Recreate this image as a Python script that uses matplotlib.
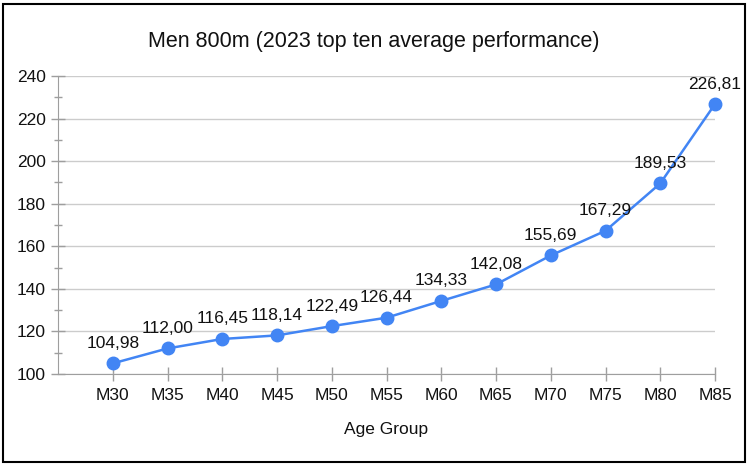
import matplotlib.pyplot as plt
from matplotlib.patches import Rectangle
from matplotlib.ticker import MultipleLocator

plt.rcParams['font.family'] = ['Liberation Sans', 'DejaVu Sans']

# data
age_groups = ['M30', 'M35', 'M40', 'M45', 'M50', 'M55',
              'M60', 'M65', 'M70', 'M75', 'M80', 'M85']
avg_time = [104.98, 112.00, 116.45, 118.14, 122.49, 126.44,
            134.33, 142.08, 155.69, 167.29, 189.53, 226.81]

blue = '#4285F4'
axis_grey = '#9e9e9e'
txt = '#111111'

fig = plt.figure(figsize=(7.48, 4.65), dpi=100)
ax = fig.add_axes([58 / 748, 1 - 374 / 465, (715 - 58) / 748, (374 - 76) / 465])

x = list(range(len(age_groups)))
ax.plot(x, avg_time, color=blue, lw=1.8, marker='o', markersize=9, zorder=3, clip_on=False)

for xi, v in zip(x, avg_time):
    ax.annotate(f'{v:.2f}'.replace('.', ','), (xi, v), xytext=(0, 9),
                textcoords='offset points', ha='center', va='bottom',
                fontsize=12.5, color=txt)

ax.set_xlim(-1, 11)
ax.set_ylim(100, 240)
ax.set_xticks(x)
ax.set_xticklabels(age_groups)
ax.yaxis.set_major_locator(MultipleLocator(20))
ax.yaxis.set_minor_locator(MultipleLocator(10))

ax.grid(axis='y', which='major', color='#cccccc', lw=1)
ax.set_axisbelow(True)
for s in ['top', 'right']:
    ax.spines[s].set_visible(False)
ax.spines['left'].set_color(axis_grey)
ax.spines['bottom'].set_color(axis_grey)

ax.tick_params(axis='y', which='major', direction='inout', length=10, width=1,
               color=axis_grey, labelsize=12.5, pad=4, labelcolor=txt)
ax.tick_params(axis='y', which='minor', direction='inout', length=6, width=1,
               color=axis_grey)
ax.tick_params(axis='x', direction='inout', length=10, width=1,
               color=axis_grey, labelsize=12.5, pad=5, labelcolor=txt)

ax.set_xlabel('Age Group', fontsize=12.5, labelpad=13.5, color=txt)
fig.suptitle('Men 800m (2023 top ten average performance)', x=0.5, y=1 - 41 / 465,
             va='center', fontsize=15.5, color=txt)

# chart border
fig.patches.append(Rectangle((3 / 748, 3 / 465), 742 / 748, 458 / 465,
                             transform=fig.transFigure, fill=False,
                             edgecolor='black', lw=1.5))

fig.savefig('out.png', dpi=100)
